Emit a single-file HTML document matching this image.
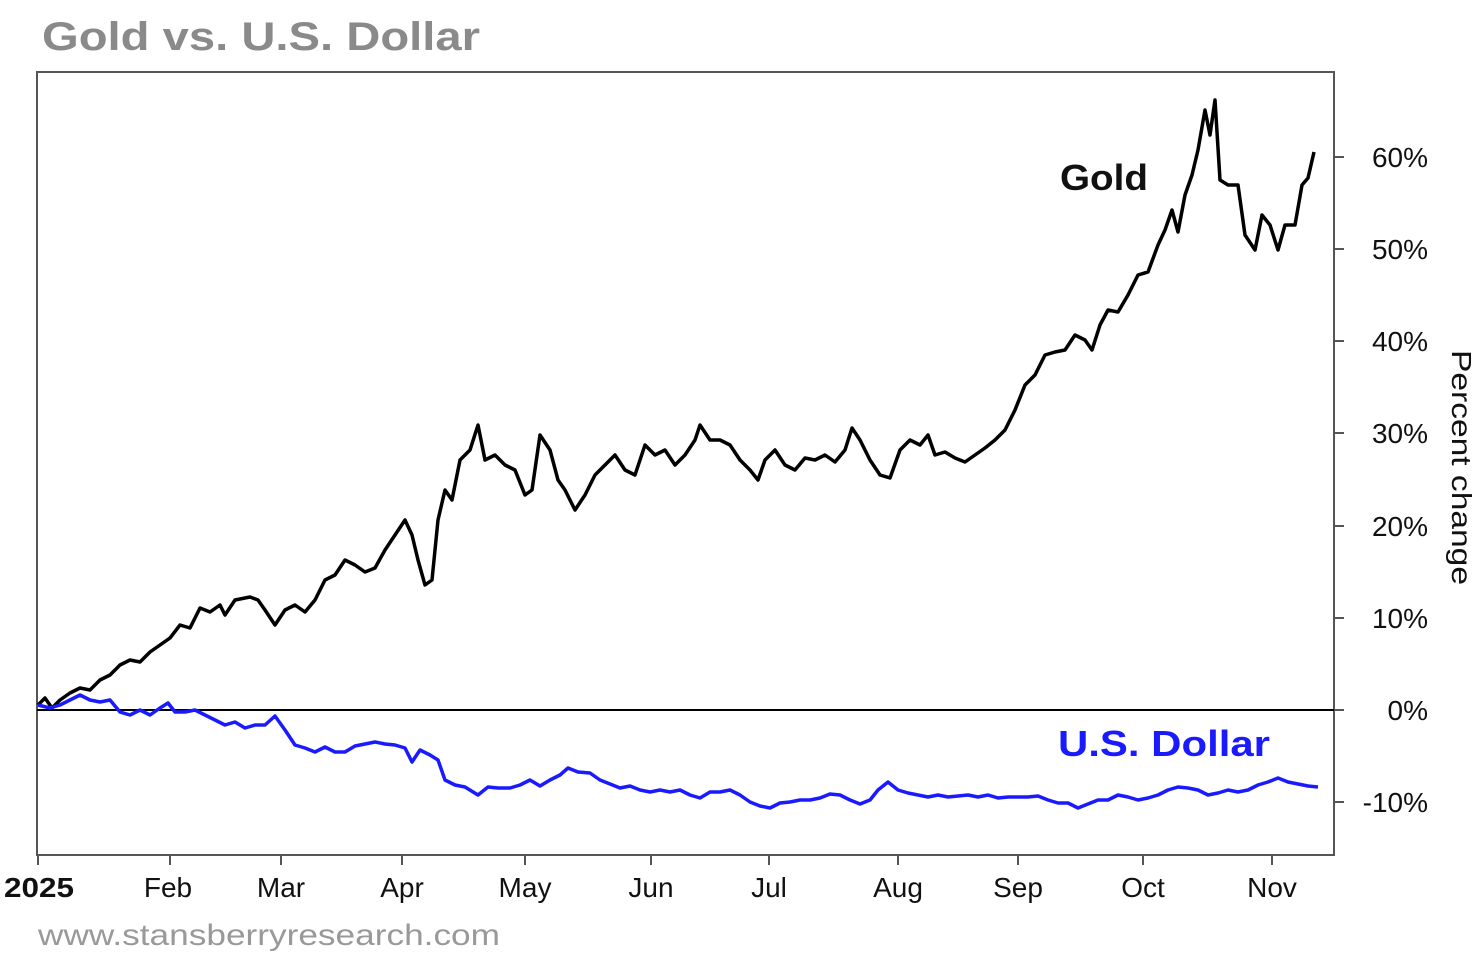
<!DOCTYPE html>
<html><head><meta charset="utf-8"><style>
html,body{margin:0;padding:0;background:#fff;width:1482px;height:960px;overflow:hidden}
svg text{font-family:"Liberation Sans",sans-serif}
</style></head><body>
<svg width="1482" height="960" viewBox="0 0 1482 960" xmlns="http://www.w3.org/2000/svg">
<rect width="1482" height="960" fill="#fff"/>
<text x="42" y="50" font-size="40" font-weight="bold" fill="#8a8a8a" textLength="438" lengthAdjust="spacingAndGlyphs">Gold vs. U.S. Dollar</text>
<rect x="37" y="72" width="1297" height="783" fill="none" stroke="#555" stroke-width="2"/>
<line x1="37" y1="710" x2="1334" y2="710" stroke="#000" stroke-width="2"/>
<g stroke="#555" stroke-width="2">
<line x1="1334" y1="157" x2="1344" y2="157"/><line x1="1334" y1="249" x2="1344" y2="249"/>
<line x1="1334" y1="341" x2="1344" y2="341"/><line x1="1334" y1="433" x2="1344" y2="433"/>
<line x1="1334" y1="526" x2="1344" y2="526"/><line x1="1334" y1="618" x2="1344" y2="618"/>
<line x1="1334" y1="710" x2="1344" y2="710"/><line x1="1334" y1="802" x2="1344" y2="802"/>
<line x1="38" y1="855" x2="38" y2="865"/><line x1="170" y1="855" x2="170" y2="865"/>
<line x1="281" y1="855" x2="281" y2="865"/><line x1="402" y1="855" x2="402" y2="865"/>
<line x1="525" y1="855" x2="525" y2="865"/><line x1="651" y1="855" x2="651" y2="865"/>
<line x1="769" y1="855" x2="769" y2="865"/><line x1="898" y1="855" x2="898" y2="865"/>
<line x1="1018" y1="855" x2="1018" y2="865"/><line x1="1143" y1="855" x2="1143" y2="865"/>
<line x1="1272" y1="855" x2="1272" y2="865"/>
</g>
<g font-size="28" fill="#111">
<text x="1428" y="167" text-anchor="end">60%</text><text x="1428" y="259" text-anchor="end">50%</text>
<text x="1428" y="351" text-anchor="end">40%</text><text x="1428" y="443" text-anchor="end">30%</text>
<text x="1428" y="536" text-anchor="end">20%</text><text x="1428" y="628" text-anchor="end">10%</text>
<text x="1428" y="720" text-anchor="end">0%</text><text x="1428" y="812" text-anchor="end">-10%</text>
<text x="4" y="897" font-weight="bold" textLength="70" lengthAdjust="spacingAndGlyphs">2025</text>
<text x="168" y="897" text-anchor="middle">Feb</text><text x="281" y="897" text-anchor="middle">Mar</text>
<text x="402" y="897" text-anchor="middle">Apr</text><text x="525" y="897" text-anchor="middle">May</text>
<text x="651" y="897" text-anchor="middle">Jun</text><text x="769" y="897" text-anchor="middle">Jul</text>
<text x="898" y="897" text-anchor="middle">Aug</text><text x="1018" y="897" text-anchor="middle">Sep</text>
<text x="1143" y="897" text-anchor="middle">Oct</text><text x="1272" y="897" text-anchor="middle">Nov</text>
<text transform="translate(1452,350) rotate(90)" x="0" y="0" textLength="235" lengthAdjust="spacingAndGlyphs">Percent change</text>
</g>
<text x="38" y="945" font-size="30" fill="#999" textLength="462" lengthAdjust="spacingAndGlyphs">www.stansberryresearch.com</text>
<text x="1060" y="190" font-size="36" font-weight="bold" fill="#111" textLength="88" lengthAdjust="spacingAndGlyphs">Gold</text>
<text x="1058" y="756" font-size="36" font-weight="bold" fill="#1a1aff" textLength="212" lengthAdjust="spacingAndGlyphs">U.S. Dollar</text>
<polyline fill="none" stroke="#000" stroke-width="3.5" stroke-linejoin="round" points="38,705 45,698 52,708 60,700 70,693 80,688 90,690 100,680 110,675 120,665 130,660 140,662 150,652 160,645 170,638 180,625 190,628 200,608 210,612 220,605 225,615 235,600 250,597 258,600 265,610 275,625 285,610 295,605 305,612 315,600 325,580 335,575 345,560 355,565 365,572 375,568 385,550 395,535 405,520 412,535 418,560 425,585 432,580 438,520 445,490 452,500 460,460 470,450 478,425 485,460 495,455 505,465 515,470 525,495 532,490 540,435 550,450 558,480 565,490 575,510 585,495 595,475 605,465 615,455 625,470 635,475 645,445 655,455 665,450 675,465 685,455 695,440 700,425 710,440 720,440 730,445 740,460 750,470 758,480 765,460 775,450 785,465 795,470 805,458 815,460 825,455 835,462 845,450 852,428 860,440 870,460 880,475 890,478 900,450 910,440 920,445 928,435 935,455 945,452 955,458 965,462 975,455 985,448 995,440 1005,430 1015,410 1025,385 1035,375 1045,355 1055,352 1065,350 1075,335 1085,340 1092,350 1100,325 1108,310 1118,312 1128,295 1138,275 1148,272 1158,245 1165,230 1172,210 1178,232 1185,195 1192,175 1198,150 1205,110 1210,135 1215,100 1220,180 1228,185 1238,185 1245,235 1255,250 1262,215 1270,225 1278,250 1285,225 1295,225 1302,185 1308,178 1314,152"/>
<polyline fill="none" stroke="#1a1aff" stroke-width="3.5" stroke-linejoin="round" points="38,705 50,708 60,705 70,700 80,695 90,700 100,702 110,700 120,712 130,715 140,710 150,715 160,708 168,703 175,712 185,712 195,710 205,715 215,720 225,725 235,722 245,728 255,725 265,725 275,716 285,730 295,745 305,748 315,752 325,747 335,752 345,752 355,746 365,744 375,742 385,744 395,745 405,748 412,762 420,750 430,755 438,760 445,780 455,785 465,787 478,795 488,787 498,788 510,788 520,785 530,780 540,786 550,780 560,775 568,768 578,772 590,773 600,780 610,784 620,788 630,786 640,790 650,792 660,790 670,792 680,790 690,795 700,798 710,792 720,792 730,790 740,795 750,802 760,806 770,808 780,803 790,802 800,800 810,800 820,798 830,794 840,795 850,800 860,804 870,800 878,790 888,782 898,790 908,793 918,795 928,797 938,795 948,797 958,796 968,795 978,797 988,795 998,798 1008,797 1018,797 1028,797 1038,796 1048,800 1058,803 1068,803 1078,808 1088,804 1098,800 1108,800 1118,795 1128,797 1138,800 1148,798 1158,795 1168,790 1178,787 1188,788 1198,790 1208,795 1218,793 1228,790 1238,792 1248,790 1258,785 1268,782 1278,778 1288,782 1298,784 1308,786 1318,787"/>
</svg>
</body></html>
